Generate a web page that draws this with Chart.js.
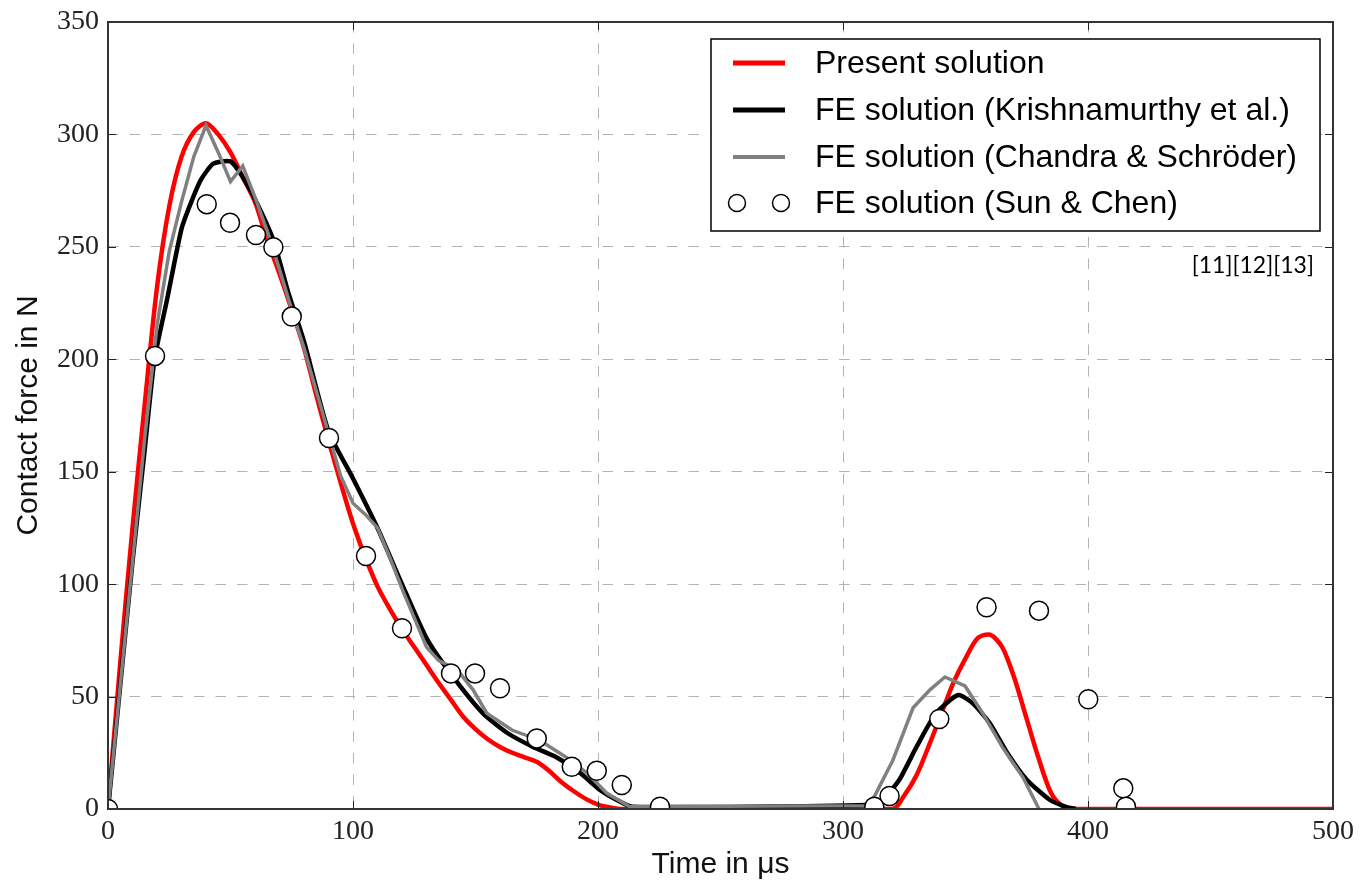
<!DOCTYPE html>
<html><head><meta charset="utf-8">
<script src="https://cdn.jsdelivr.net/npm/chart.js@4/dist/chart.umd.min.js"></script>
<style>html,body{margin:0;padding:0;background:#fff;}canvas{display:block;}</style>
</head><body>
<canvas id="c" width="1367" height="885"></canvas>
<script>
// ---- data (time in microseconds, force in N) ----
const presentT = [0,5,10,15,20,25,30,35,40,45,50,55,60,65,70,75,80,85,90,95,100,105,110,115,120,125,130,135,140,145,150,155,160,165,170,175,180,185,190,195,200,205,210,320,325,330,335,340,345,350,355,360,365,370,375,380,385,390,395,500];
const presentF = [0,65,125,180,232,268,290,301,305,300,292,281,270,253,238,222,205,184,164,145,127,112,99,89,80,72,64,56,48.5,41,35.5,31,27.6,25,23,21,17,12,8,4.5,2,0.7,0,0,6,15,28,42,56,67,76,77.5,72,58,40,22,7,1,0,0];

const krishT = [0,5,10,15,19,24,30,34,38,43,50,55,61,67.5,73.5,80,90,100,110,120,130,140,153,163,173.5,183,192.7,200.8,207.7,214,310,316,323,330,338,347,353,360,367,375,384.5,391,395];
const krishF = [0,55,110,160,200,226,258,270,280,287,288,281,269,253,230,208,168,147,125,100,76,60,42.6,33.8,27.6,23,16,8.5,4,1,1.8,4,13,27.6,42.6,50.7,47,38,25,13,4,1,0];

const chandraT = [0,5,10,15,20,25,30,35,40,45,50,55,60,65,70,75,80,90,95,100,105,110,115,120,130,135,142.5,149,154.6,165,176,187,195.5,203.6,213,310,313,320.4,328.6,335.5,341.6,349.8,357,365,373.5,380];
const chandraF = [0,55,110,165,215,248,270,290,304,292,279,286,272,257,240,222,205,167,148,136,131,125,112,98,72,66,62,53,42.6,35,30.7,23,16,7,1,1.5,6,21.8,45,53,58.7,54.7,42.6,27.6,14,0];

const sunT = [0,19.2,40.3,49.8,60.4,67.5,75,90.2,105.3,120,140,149.8,160,175,189.3,199.5,209.7,225.3,312.8,319,339.3,358.6,380,400.1,414.4,415.5];
const sunF = [0,201.5,269,260.7,255.3,249.8,219,165,112.5,80.4,60.3,60.3,53.7,31.4,18.8,17,10.7,1,1,5.8,40,89.7,88.2,48.8,9.2,1];

const seriesLabels = ['Present solution','FE solution (Krishnamurthy et al.)','FE solution (Chandra & Schr\u00f6der)','FE solution (Sun & Chen)'];
const xTickValues = [0,100,200,300,400,500];
const yTickValues = [0,50,100,150,200,250,300,350];
const xTitle = 'Time in \u03bcs';
const yTitle = 'Contact force in N';
const refNote = '[11][12][13]';

const pts = (xs, ys) => xs.map((x, i) => ({x: x, y: ys[i]}));

const frameAndTicks = {
  id: 'frameAndTicks',
  afterDatasetsDraw(chart) {
    const {ctx, chartArea: a, scales} = chart;
    ctx.save();
    ctx.strokeStyle = '#222';
    ctx.lineWidth = 1;
    const L = 8;
    xTickValues.forEach(v => {
      const px = Math.round(scales.x.getPixelForValue(v)) + 0.5;
      ctx.beginPath();
      ctx.moveTo(px, a.bottom); ctx.lineTo(px, a.bottom - L);
      ctx.moveTo(px, a.top); ctx.lineTo(px, a.top + L);
      ctx.stroke();
    });
    yTickValues.forEach(v => {
      const py = Math.round(scales.y.getPixelForValue(v)) + 0.5;
      ctx.beginPath();
      ctx.moveTo(a.left, py); ctx.lineTo(a.left + L, py);
      ctx.moveTo(a.right, py); ctx.lineTo(a.right - L, py);
      ctx.stroke();
    });
    ctx.strokeStyle = '#333';
    ctx.lineWidth = 2;
    ctx.strokeRect(a.left, a.top, a.right - a.left, a.bottom - a.top);
    ctx.restore();
  },
  afterDraw(chart) {
    const {ctx} = chart;
    const ds = chart.data.datasets;
    ctx.save();
    const bx = 711, by = 39, bw = 609, bh = 192;
    ctx.fillStyle = '#fff';
    ctx.fillRect(bx, by, bw, bh);
    ctx.strokeStyle = '#000';
    ctx.lineWidth = 1.5;
    ctx.strokeRect(bx, by, bw, bh);
    const rows = [63, 110, 157, 203];
    ctx.font = '32px "Liberation Sans", Arial, sans-serif';
    ctx.textBaseline = 'middle';
    ctx.textAlign = 'left';
    ds.forEach((d, i) => {
      const y = rows[i];
      if (d.showLine) {
        ctx.strokeStyle = d.borderColor;
        ctx.lineWidth = d.borderWidth + 0.5;
        ctx.beginPath();
        ctx.moveTo(733, y); ctx.lineTo(785, y);
        ctx.stroke();
      } else {
        [737, 781].forEach(cx => {
          ctx.beginPath();
          ctx.arc(cx, y, 8.5, 0, Math.PI * 2);
          ctx.fillStyle = '#fff';
          ctx.fill();
          ctx.strokeStyle = '#000';
          ctx.lineWidth = 1.5;
          ctx.stroke();
        });
      }
      ctx.fillStyle = '#000';
      ctx.fillText(d.label, 815, y + 1);
    });
    ctx.font = '23px Lato, "Open Sans", sans-serif';
    ctx.textAlign = 'right';
    ctx.fillText(refNote, 1314, 266);
    ctx.restore();
  }
};

new Chart(document.getElementById('c'), {
  type: 'scatter',
  data: {
    datasets: [
      {label: seriesLabels[0], data: pts(presentT, presentF), showLine: true, borderColor: '#ff0000', borderWidth: 4.5, pointRadius: 0, tension: 0.3, clip: 0, order: 4},
      {label: seriesLabels[1], data: pts(krishT, krishF), showLine: true, borderColor: '#000000', borderWidth: 4.5, pointRadius: 0, tension: 0.2, clip: 0, order: 3},
      {label: seriesLabels[2], data: pts(chandraT, chandraF), showLine: true, borderColor: '#808080', borderWidth: 3.5, pointRadius: 0, tension: 0, clip: 0, order: 2},
      {label: seriesLabels[3], data: pts(sunT, sunF), showLine: false, pointRadius: 9.5, pointHoverRadius: 9.5, pointBackgroundColor: '#ffffff', pointBorderColor: '#000000', pointBorderWidth: 1.5, backgroundColor: '#ffffff', borderColor: '#000000', clip: 0, order: 1}
    ]
  },
  options: {
    responsive: false,
    animation: false,
    events: [],
    layout: {padding: {top: 22, right: 34, left: 0, bottom: 0}},
    plugins: {legend: {display: false}, tooltip: {enabled: false}},
    scales: {
      x: {
        type: 'linear', min: 0, max: 500,
        afterFit(s) { s.height = 76; s.paddingLeft = 0; s.paddingRight = 0; },
        afterBuildTicks(s) { s.ticks = xTickValues.map(v => ({value: v})); },
        grid: {color: '#b3b3b3', lineWidth: 1, drawTicks: false},
        border: {display: false, dash: [10.5, 11]},
        ticks: {padding: 6, color: '#222', font: {family: '"Liberation Serif", "DejaVu Serif", serif', size: 28}, maxRotation: 0},
        title: {display: true, text: xTitle, color: '#111', font: {family: '"Liberation Sans", Arial, sans-serif', size: 30}, padding: {top: 0, bottom: 2}}
      },
      y: {
        type: 'linear', min: 0, max: 350,
        afterFit(s) { s.width = 108; s.paddingTop = 0; s.paddingBottom = 0; },
        afterBuildTicks(s) { s.ticks = yTickValues.map(v => ({value: v})); },
        grid: {color: '#b3b3b3', lineWidth: 1, drawTicks: false},
        border: {display: false, dash: [10.5, 11]},
        ticks: {padding: 9, color: '#222', font: {family: '"Liberation Serif", "DejaVu Serif", serif', size: 28}},
        title: {display: true, text: yTitle, color: '#111', font: {family: '"Liberation Sans", Arial, sans-serif', size: 30}, padding: {top: 11, bottom: 0}}
      }
    }
  },
  plugins: [frameAndTicks]
});
</script>
</body></html>
